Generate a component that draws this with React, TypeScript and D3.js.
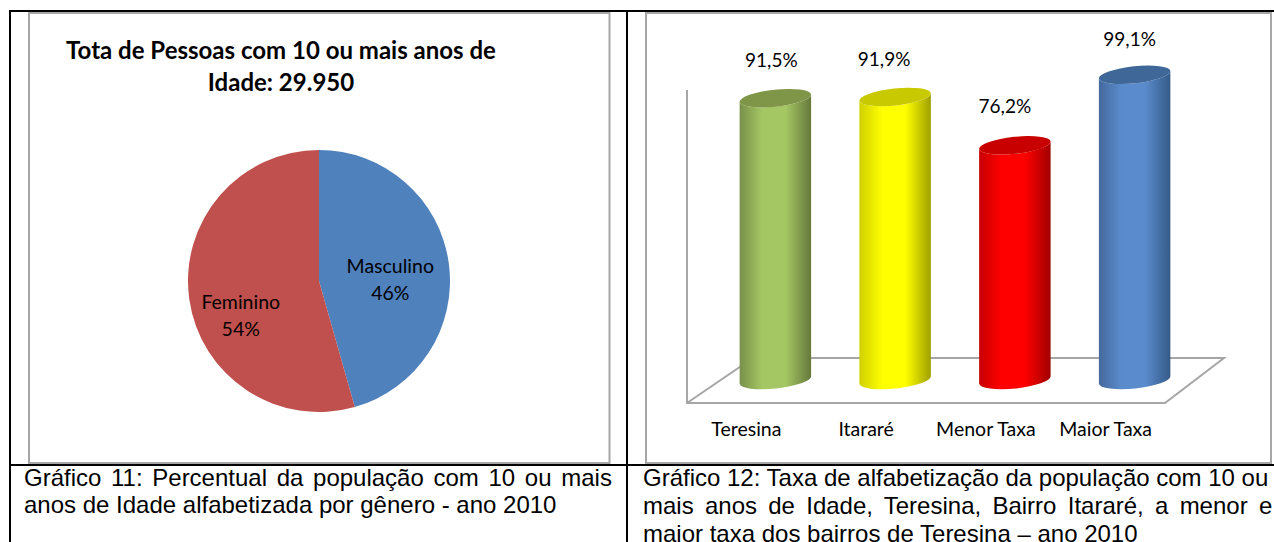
import * as d3 from 'd3';

const WIDTH = 1274;
const HEIGHT = 542;

// pie
const pieCategories = ['Masculino', 'Feminino'];
const pieValues = [45.6, 54.4];
const pieColors = ['#4f81bd', '#c0504d'];
const pieNudge = [[-3, 2], [-4, 18]];

// cylinders
const barCategories = ['Teresina', 'Itararé', 'Menor Taxa', 'Maior Taxa'];
const barValues = [91.5, 91.9, 76.2, 99.1];
const barLabels = ['91,5%', '91,9%', '76,2%', '99,1%'];
const barLabelNudge = [-4, -11, -10, -5];
const barLabelLift = [31, 31, 32, 29];
const barEdgeLeft = ['#78904a', '#d0d000', '#c80000', '#44699c'];
const barEdgeRight = ['#66793c', '#a0a000', '#a00000', '#355a88'];
const barMid = ['#a5c763', '#ffff00', '#ff0000', '#5a8ccd'];
const barTop = ['#7f9648', '#c9c900', '#c90000', '#3f6899'];

const caption1 = ['Gráfico 11: Percentual da população com 10 ou mais', 'anos de Idade alfabetizada por gênero - ano 2010'];
const caption2 = [
  'Gráfico 12: Taxa de alfabetização da população com 10 ou',
  'mais anos de Idade, Teresina, Bairro Itararé, a menor e',
  'maior taxa dos bairros de Teresina – ano 2010',
];

const CHART_FONT = 'Lato, sans-serif';
const CAPTION_FONT = '"Liberation Sans", Arial, sans-serif';

const pieCx = 319;
const pieCy = 281;
const pieR = 131;

const arcs = d3.pie<number>().sort(null)(pieValues);
const arc = d3.arc<d3.PieArcDatum<number>>().innerRadius(0).outerRadius(pieR);
const labelArc = d3.arc<d3.PieArcDatum<number>>().innerRadius(150).outerRadius(0);

const x = d3.scaleBand<string>().domain(barCategories).range([715.5, 1194.5]).paddingInner(0.4).paddingOuter(0.2);
const y = d3.scaleLinear().domain([0, 100]).range([380, 72]);

const RX = x.bandwidth() / 2;
const RY = 8.5;
const TILT = -6;

function cylinderPath(cx: number, top: number, bottom: number) {
  const a = (TILT * Math.PI) / 180;
  const dx = RX * Math.cos(a);
  const dy = RX * Math.sin(a);
  return [
    `M${cx - dx},${top - dy}`,
    `L${cx - dx},${bottom - dy}`,
    `A${RX},${RY} ${TILT} 0 0 ${cx + dx},${bottom + dy}`,
    `L${cx + dx},${top + dy}`,
    `A${RX},${RY} ${TILT} 0 1 ${cx - dx},${top - dy}`,
    'Z',
  ].join(' ');
}

export default function App() {
  return (
    <svg
      width={WIDTH}
      height={HEIGHT}
      style={{ position: 'absolute', left: 0, top: 0, background: '#fff', display: 'block' }}
    >
      <defs>
        {barCategories.map((c, i) => (
          <linearGradient key={c} id={`cyl${i}`} x1="0" x2="1" y1="0" y2="0">
            <stop offset="0" stopColor={barEdgeLeft[i]} />
            <stop offset="0.32" stopColor={barMid[i]} />
            <stop offset="0.64" stopColor={barMid[i]} />
            <stop offset="1" stopColor={barEdgeRight[i]} />
          </linearGradient>
        ))}
      </defs>

      {/* chart frames */}
      <g fill="none" stroke="#a6a6a6" strokeWidth={2}>
        <rect x={29} y={13} width={580.5} height={450} />
        <rect x={646} y={13} width={625} height={450} />
      </g>

      {/* table rules */}
      <g stroke="#000" strokeWidth={2}>
        <line x1={9} x2={WIDTH} y1={11} y2={11} />
        <line x1={9} x2={WIDTH} y1={465} y2={465} />
        <line x1={10} x2={10} y1={10} y2={HEIGHT} />
        <line x1={627} x2={627} y1={10} y2={HEIGHT} />
      </g>

      {/* left chart */}
      <g fontFamily={CHART_FONT} fill="#000" fontSize={24} fontWeight={700}>
        <text x={281} y={59} textAnchor="middle">Tota de Pessoas com 10 ou mais anos de</text>
        <text x={281} y={90.5} textAnchor="middle">Idade: 29.950</text>
      </g>
      <g transform={`translate(${pieCx},${pieCy})`}>
        {arcs.map((d, i) => (
          <path key={pieCategories[i]} d={arc(d) ?? ''} fill={pieColors[i]} />
        ))}
        {arcs.map((d, i) => {
          const [lx, ly] = labelArc.centroid(d);
          const [nx, ny] = pieNudge[i];
          return (
            <text key={pieCategories[i]} x={lx + nx} y={ly + ny} textAnchor="middle" fontFamily={CHART_FONT} fontSize={19.5} fill="#000">
              <tspan x={lx + nx}>{pieCategories[i]}</tspan>
              <tspan x={lx + nx} dy={27}>{Math.round(pieValues[i])}%</tspan>
            </text>
          );
        })}
      </g>

      {/* right chart: floor and back wall */}
      <g fill="none" stroke="#a6a6a6" strokeWidth={2}>
        <path d="M687,90 L687,403 L1165,403 L1224,358 L753,358 L687,403" />
      </g>
      {barCategories.map((c, i) => {
        const cx = (x(c) ?? 0) + RX;
        const top = y(barValues[i]);
        return (
          <g key={c}>
            <path d={cylinderPath(cx, top, y(0))} fill={`url(#cyl${i})`} />
            <ellipse
              cx={cx}
              cy={top}
              rx={RX}
              ry={RY}
              fill={barTop[i]}
              transform={`rotate(${TILT} ${cx} ${top})`}
            />
            <text
              x={cx + barLabelNudge[i]}
              y={top - barLabelLift[i]}
              textAnchor="middle"
              fontFamily={CHART_FONT}
              fontSize={19}
              fill="#000"
            >
              {barLabels[i]}
            </text>
            <text x={cx - 29} y={436} textAnchor="middle" fontFamily={CHART_FONT} fontSize={19.5} fill="#000">
              {c}
            </text>
          </g>
        );
      })}

      {/* captions */}
      <g fontFamily={CAPTION_FONT} fontSize={24} fill="#000">
        {caption1.map((t, i) => (
          <text key={t} x={24} y={486 + i * 27} wordSpacing={i === 0 ? 3 : 0}>{t}</text>
        ))}
        {caption2.map((t, i) => (
          <text key={t} x={643} y={486 + i * 28} wordSpacing={i === 1 ? 4.6 : 0}>{t}</text>
        ))}
      </g>
    </svg>
  );
}
